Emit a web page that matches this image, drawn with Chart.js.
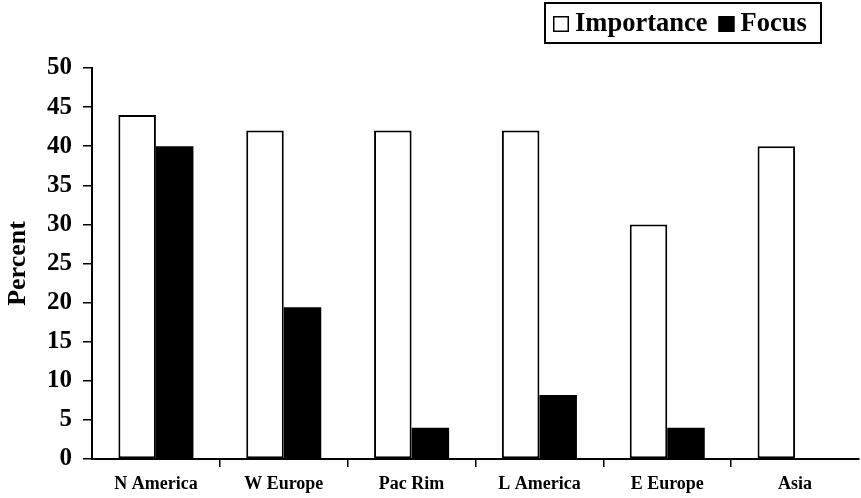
<!DOCTYPE html>
<html>
<head>
<meta charset="utf-8">
<script src="https://cdn.jsdelivr.net/npm/chart.js@4"></script>
<style>
  html, body { margin: 0; padding: 0; background: #fff; }
  #wrap { width: 861px; height: 498px; }
</style>
</head>
<body>
<div id="wrap"><canvas id="c"></canvas></div>
<script>
const regions = ['N America', 'W Europe', 'Pac Rim', 'L America', 'E Europe', 'Asia'];
const importance = [44, 42, 42, 42, 30, 40];
const focus = [40, 19.4, 4, 8.2, 4, 0];
const yTicks = [0, 5, 10, 15, 20, 25, 30, 35, 40, 45, 50];

const SERIF = '"Liberation Serif", "Times New Roman", serif';

// Boxed legend in the top-right corner, built from the dataset styles
const boxedLegend = {
  id: 'boxedLegend',
  afterDraw(chart) {
    const ctx = chart.ctx;
    const font = 'bold 26.5px ' + SERIF;
    const sq = 16;
    const left = 545, top = 3, h = 40;
    ctx.save();
    ctx.font = font;
    ctx.textBaseline = 'middle';
    let x = left + 8;
    const cy = top + h / 2 + 1;
    chart.data.datasets.forEach((ds, i) => {
      ctx.fillStyle = ds.backgroundColor;
      ctx.fillRect(x, cy - sq / 2, sq, sq);
      ctx.strokeStyle = '#000';
      ctx.lineWidth = 1.5;
      ctx.strokeRect(x + 0.75, cy - sq / 2 + 0.75, sq - 1.5, sq - 1.5);
      x += sq + 6;
      ctx.fillStyle = '#000';
      ctx.fillText(ds.label, x, cy);
      x += ctx.measureText(ds.label).width + (i === 0 ? 11 : 0);
    });
    const right = Math.max(x + 10, 821);
    ctx.strokeStyle = '#000';
    ctx.lineWidth = 2;
    ctx.strokeRect(left, top, right - left, h);
    ctx.restore();
  }
};

new Chart(document.getElementById('c'), {
  type: 'bar',
  data: {
    labels: regions,
    datasets: [
      {
        label: 'Importance',
        data: importance,
        backgroundColor: '#ffffff',
        borderColor: '#000000',
        borderWidth: 2,
        borderSkipped: false
      },
      {
        label: 'Focus',
        data: focus,
        backgroundColor: '#000000',
        borderColor: '#000000',
        borderWidth: 0
      }
    ]
  },
  options: {
    responsive: true,
    maintainAspectRatio: false,
    animation: false,
    events: [],
    layout: { padding: { top: 68, right: 2, bottom: 0, left: 0 } },
    datasets: { bar: { categoryPercentage: 0.587, barPercentage: 1.0 } },
    plugins: {
      legend: { display: false },
      tooltip: { enabled: false }
    },
    scales: {
      x: {
        offset: true,
        afterFit: (s) => { s.height = 39; },
        grid: {
          drawOnChartArea: false,
          drawTicks: true,
          tickLength: 8,
          lineWidth: 1.5,
          color: (ctx) => (ctx.index === undefined || ctx.index === 0) ? 'rgba(0,0,0,0)' : '#000'
        },
        border: { display: true, color: '#000', width: 2 },
        ticks: {
          color: '#000',
          padding: 7,
          font: { family: SERIF, size: 18, weight: 'bold' }
        }
      },
      y: {
        min: 0,
        max: 50,
        afterFit: (s) => { s.width = 92; },
        afterBuildTicks: (s) => { s.ticks = yTicks.map(v => ({ value: v })); },
        grid: {
          drawOnChartArea: false,
          drawTicks: true,
          tickLength: 9,
          lineWidth: 1.5,
          color: '#000'
        },
        border: { display: true, color: '#000', width: 2 },
        ticks: {
          color: '#000',
          padding: 11,
          font: { family: SERIF, size: 25, weight: 'bold' }
        },
        title: {
          display: true,
          text: 'Percent',
          color: '#000',
          padding: { top: 3, bottom: 0 },
          font: { family: SERIF, size: 26, weight: 'bold' }
        }
      }
    }
  },
  plugins: [boxedLegend]
});
</script>
</body>
</html>
